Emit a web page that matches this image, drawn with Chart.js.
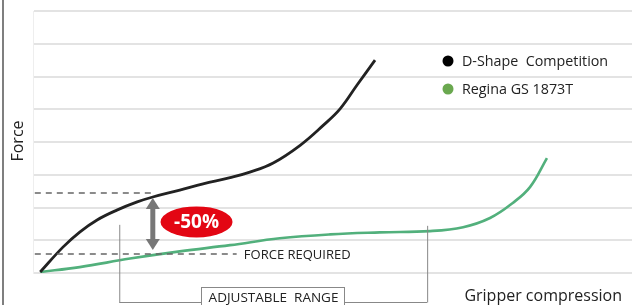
<html lang="en">
<head>
    <meta charset="UTF-8">
    <script src="https://cdnjs.cloudflare.com/ajax/libs/Chart.js/4.4.1/chart.umd.min.js"></script>
    <title>Gripper force</title>
    <style>
        html, body { margin: 0; padding: 0; background: #fff; }
        #wrap { width: 643px; height: 305px; }
    </style>
</head>
<body>
    <div id="wrap"><canvas id="myChart"></canvas></div>

    <script>
        // values (x = compression, y = force in grid steps)
        var seriesNames = ["D-Shape  Competition", "Regina GS 1873T"];
        var dshapeX = [1.2, 5.0, 7.8, 10.7, 14.0, 17.4, 20.0, 24.5, 28.4, 32.9, 36.2, 40.1, 44.6, 48.4, 51.3, 54.1, 57.1];
        var dshapeForce = [0.03, 0.79, 1.25, 1.62, 1.92, 2.17, 2.32, 2.53, 2.72, 2.91, 3.08, 3.36, 3.90, 4.50, 5.02, 5.74, 6.50];
        var reginaX = [1.2, 7.8, 16.2, 24.5, 32.9, 41.2, 49.6, 57.9, 66.3, 71.8, 76.3, 80.1, 83.0, 85.8];
        var reginaForce = [0.03, 0.18, 0.44, 0.66, 0.85, 1.06, 1.18, 1.24, 1.28, 1.40, 1.68, 2.14, 2.63, 3.51];
        var forceLevels = [2.44, 0.58];     // dashed reference lines
        var dashEnds = [20.0, 34.0];
        var rangeLimits = [14.4, 65.8];     // adjustable range
        var reductionLabel = "-50%";

        var FONT = "'Open Sans', sans-serif";

        function toPoints(xs, ys) {
            return xs.map(function (x, i) { return { x: x, y: ys[i] }; });
        }

        var overlay = {
            id: 'overlay',
            beforeDraw: function (chart) {
                var ctx = chart.ctx;
                ctx.save();
                ctx.strokeStyle = '#555';
                ctx.lineWidth = 1.5;
                ctx.beginPath();
                ctx.moveTo(3, 0);
                ctx.lineTo(3, chart.height);
                ctx.stroke();
                ctx.restore();
            },
            afterDatasetsDraw: function (chart) {
                var ctx = chart.ctx;
                var xs = chart.scales.x, ys = chart.scales.y;
                var area = chart.chartArea;
                var px = function (v) { return xs.getPixelForValue(v); };
                var py = function (v) { return ys.getPixelForValue(v); };
                ctx.save();

                // double arrow
                var ax = px(dashEnds[0]);
                var aTop = py(forceLevels[0]) + 5, aBot = py(forceLevels[1]) - 4;
                ctx.fillStyle = '#777';
                ctx.strokeStyle = '#777';
                ctx.lineWidth = 5;
                ctx.beginPath();
                ctx.moveTo(ax, aTop + 8);
                ctx.lineTo(ax, aBot - 8);
                ctx.stroke();
                ctx.beginPath();
                ctx.moveTo(ax, aTop);
                ctx.lineTo(ax - 7, aTop + 11);
                ctx.lineTo(ax + 7, aTop + 11);
                ctx.closePath();
                ctx.fill();
                ctx.beginPath();
                ctx.moveTo(ax, aBot);
                ctx.lineTo(ax - 7, aBot - 11);
                ctx.lineTo(ax + 7, aBot - 11);
                ctx.closePath();
                ctx.fill();

                // red badge
                var ex = px(27.3), ey = py(1.56);
                ctx.fillStyle = '#e30613';
                ctx.beginPath();
                ctx.ellipse(ex, ey, 36, 15.5, 0, 0, Math.PI * 2);
                ctx.fill();
                ctx.fillStyle = '#fff';
                ctx.font = "bold 19px " + FONT;
                ctx.textAlign = 'center';
                ctx.textBaseline = 'middle';
                ctx.fillText(reductionLabel, ex, ey + 1);

                // force required label
                ctx.fillStyle = '#222';
                ctx.font = "13px " + FONT;
                ctx.textAlign = 'left';
                ctx.fillText("FORCE REQUIRED", px(35.2), py(forceLevels[1]) + 1);

                // adjustable range bracket
                var r0 = px(rangeLimits[0]), r1 = px(rangeLimits[1]);
                var by = area.bottom + 29;
                ctx.strokeStyle = '#888';
                ctx.lineWidth = 1;
                ctx.beginPath();
                ctx.moveTo(r0 + 0.5, py(1.47));
                ctx.lineTo(r0 + 0.5, by + 0.5);
                ctx.moveTo(r1 + 0.5, py(1.44));
                ctx.lineTo(r1 + 0.5, by + 0.5);
                ctx.stroke();
                var bx0 = 201, bx1 = 344;
                ctx.beginPath();
                ctx.moveTo(r0, by + 0.5);
                ctx.lineTo(bx0, by + 0.5);
                ctx.moveTo(bx1, by + 0.5);
                ctx.lineTo(r1, by + 0.5);
                ctx.stroke();
                ctx.strokeRect(bx0 + 0.5, area.bottom + 14.5, bx1 - bx0, 30);
                ctx.fillStyle = '#222';
                ctx.font = "13.5px " + FONT;
                ctx.textAlign = 'center';
                ctx.fillText("ADJUSTABLE  RANGE", (bx0 + bx1) / 2 + 1, area.bottom + 25);

                // x title
                ctx.font = "16px " + FONT;
                ctx.textAlign = 'right';
                ctx.fillText("Gripper compression", area.right - 10, area.bottom + 23);

                // y title
                ctx.save();
                ctx.translate(18, 141);
                ctx.rotate(-Math.PI / 2);
                ctx.textAlign = 'center';
                ctx.fillText("Force", 0, 0);
                ctx.restore();

                // legend
                var colors = ['#000', '#6aa84f'];
                var ly = [61, 89];
                ctx.font = "14.3px " + FONT;
                ctx.textAlign = 'left';
                for (var i = 0; i < seriesNames.length; i++) {
                    ctx.fillStyle = colors[i];
                    ctx.beginPath();
                    ctx.arc(448, ly[i], 5.5, 0, Math.PI * 2);
                    ctx.fill();
                    ctx.fillStyle = '#222';
                    ctx.fillText(seriesNames[i], 462, ly[i] + 1);
                }
                ctx.restore();
            }
        };

        var dashStyle = {
            borderColor: '#666',
            borderWidth: 1.5,
            borderDash: [6, 5],
            pointRadius: 0,
            fill: false
        };

        new Chart(document.getElementById('myChart').getContext('2d'), {
            type: 'line',
            data: {
                datasets: [
                    Object.assign({ label: 'upper', data: toPoints([0.3, dashEnds[0]], [forceLevels[0], forceLevels[0]]) }, dashStyle),
                    Object.assign({ label: 'lower', data: toPoints([0.3, dashEnds[1]], [forceLevels[1], forceLevels[1]]) }, dashStyle),
                    {
                        label: seriesNames[0],
                        data: toPoints(dshapeX, dshapeForce),
                        borderColor: '#222',
                        borderWidth: 2.8,
                        pointRadius: 0,
                        tension: 0.4,
                        fill: false
                    },
                    {
                        label: seriesNames[1],
                        data: toPoints(reginaX, reginaForce),
                        borderColor: '#52b07c',
                        borderWidth: 2.6,
                        pointRadius: 0,
                        tension: 0.4,
                        fill: false
                    }
                ]
            },
            options: {
                responsive: true,
                maintainAspectRatio: false,
                animation: false,
                layout: { padding: { left: 33, right: 11, top: 11, bottom: 32 } },
                plugins: {
                    legend: { display: false },
                    tooltip: { enabled: false }
                },
                scales: {
                    x: {
                        type: 'linear',
                        min: 0,
                        max: 100,
                        display: false
                    },
                    y: {
                        min: 0,
                        max: 8,
                        ticks: { display: false, stepSize: 1 },
                        grid: { color: '#e3e3e3', lineWidth: 2, drawTicks: false },
                        border: { display: true, color: '#eeeeee' }
                    }
                }
            },
            plugins: [overlay]
        });
    </script>
</body>
</html>
